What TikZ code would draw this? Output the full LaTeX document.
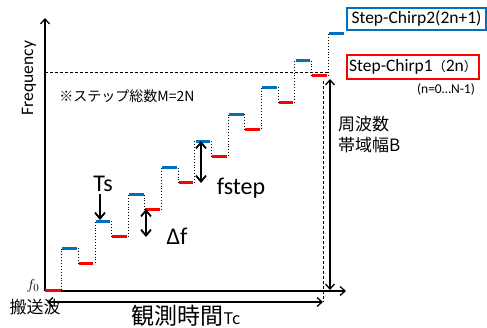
\documentclass[tikz,border=0pt]{standalone}
\usepackage{fontspec}
\setmainfont{Carlito}
\newfontfamily\jp{Noto Sans CJK JP}
\usetikzlibrary{arrows.meta}
\definecolor{cblue}{RGB}{0,112,192}
\definecolor{cred}{RGB}{255,0,0}
\begin{document}
\begin{tikzpicture}[x=1pt,y=-1pt,
  axisline/.style={line width=1.3pt,-{Straight Barb[length=5pt,width=9pt]}},
  dblarrow/.style={line width=1.3pt,{Straight Barb[length=5pt,width=9pt]}-{Straight Barb[length=5pt,width=9pt]}},
  bigarrow/.style={line width=1.8pt,-{Straight Barb[length=6pt,width=10pt]}},
  bigdbl/.style={line width=1.8pt,{Straight Barb[length=6pt,width=10pt]}-{Straight Barb[length=6pt,width=10pt]}},
  guide/.style={line width=0.6pt,dash pattern=on 3pt off 2pt},
  stairs/.style={line width=0.9pt,dotted},
  bluebar/.style={line width=3pt,cblue},
  redbar/.style={line width=3pt,cred},
  lbl/.style={inner sep=0pt,font=\fontsize{24}{26}\selectfont},
  box/.style={draw,line width=1.8pt,inner sep=0pt,font=\fontsize{17.5}{20}\selectfont}
]
\useasboundingbox (0,0) rectangle (487,327);

% axes
\coordinate (O) at (45,291);
\coordinate (ytop) at (45,18);
\coordinate (xend) at (346,291);
\draw[axisline] (O) -- (ytop);
\draw[axisline] (O) -- (xend);

% guide lines
\coordinate (hl) at (45,72);
\coordinate (hr) at (328,72);
\draw[guide] (hl) -- (hr);
\coordinate (vt) at (323,81);
\coordinate (vb) at (323,302);
\draw[guide] (vt) -- (vb);

% observation time arrow
\coordinate (tl) at (47,302);
\coordinate (tr) at (323,302);
\draw[dblarrow] (tl) -- (tr);

% bandwidth arrow
\coordinate (bt) at (330,79);
\coordinate (bb) at (330,290);
\draw[dblarrow] (bt) -- (bb);

% staircase
\foreach \i in {1,...,9}{
  \pgfmathsetmacro{\ta}{45+16.65*(2*\i-1)}
  \pgfmathsetmacro{\tb}{45+16.65*(2*\i)}
  \pgfmathsetmacro{\lb}{275-26.8*\i}
  \pgfmathsetmacro{\lrp}{290-26.8*(\i-1)}
  \pgfmathsetmacro{\lr}{290-26.8*\i}
  \draw[stairs] (\ta,\lrp) -- (\ta,\lb);
  \ifnum\i<9
    \draw[stairs] (\tb,\lb) -- (\tb,\lr);
  \fi
  \ifnum\i=9
    \draw[bluebar] (\ta+0.8,\lb) -- (\ta+15.5,\lb);
  \else
    \draw[bluebar] (\ta+0.8,\lb) -- (\tb-1.2,\lb);
  \fi
}
\draw[redbar] (45,290) -- (60.5,290);
\foreach \i in {1,...,8}{
  \pgfmathsetmacro{\ta}{45+16.65*(2*\i)}
  \pgfmathsetmacro{\tb}{45+16.65*(2*\i+1)}
  \pgfmathsetmacro{\lr}{290-26.8*\i}
  \draw[redbar] (\ta+0.5,\lr) -- (\tb-1.5,\lr);
}

% Ts, delta f, fstep arrows
\coordinate (tsa) at (100,194);
\coordinate (tsb) at (100,220);
\draw[bigarrow] (tsa) -- (tsb);
\coordinate (dfa) at (146,209);
\coordinate (dfb) at (146,237);
\draw[bigdbl] (dfa) -- (dfb);
\coordinate (fsa) at (201,141);
\coordinate (fsb) at (201,183);
\draw[bigdbl] (fsa) -- (fsb);

% labels
\node[inner sep=0pt,rotate=90,font=\fontsize{17.5}{20}\selectfont] (freq) at (29,78) {Frequency};
\node[inner sep=0pt,font=\jp\fontsize{14}{16}\selectfont] (note) at (127,96) {※ステップ総数M=2N};
\node[box,cblue,minimum width=139pt,minimum height=22pt,text=black] (sc2) at (416.5,19) {Step-Chirp2(2n+1)};
\node[box,cred,minimum width=132pt,minimum height=24pt,text=black] (sc1) at (413,67) {Step-Chirp1{\jp\fontsize{13}{15}\selectfont （}2n{\jp\fontsize{13}{15}\selectfont ）}};
\node[inner sep=0pt,font=\fontsize{13.5}{15}\selectfont] (nrange) at (446,89) {(n=0…N-1)};
\node[inner sep=0pt,anchor=west,align=left,font=\jp\fontsize{17}{21}\selectfont] (bw) at (338,135) {周波数\\帯域幅B};
\node[lbl] (fstep) at (241,188) {fstep};
\node[lbl] (ts) at (103,184) {Ts};
\node[lbl] (df) at (177,236) {Δf};
\node[inner sep=0pt,font=\fontsize{15}{16}\selectfont] (f0) at (33,286) {$f_0$};
\node[inner sep=0pt,font=\jp\fontsize{17}{19}\selectfont] (carrier) at (35,307) {搬送波};
\node[inner sep=0pt,font=\jp\fontsize{23}{25}\selectfont] (obs) at (186,316) {観測時間{\fontsize{16}{18}\selectfont Tc}};
\end{tikzpicture}
\end{document}
